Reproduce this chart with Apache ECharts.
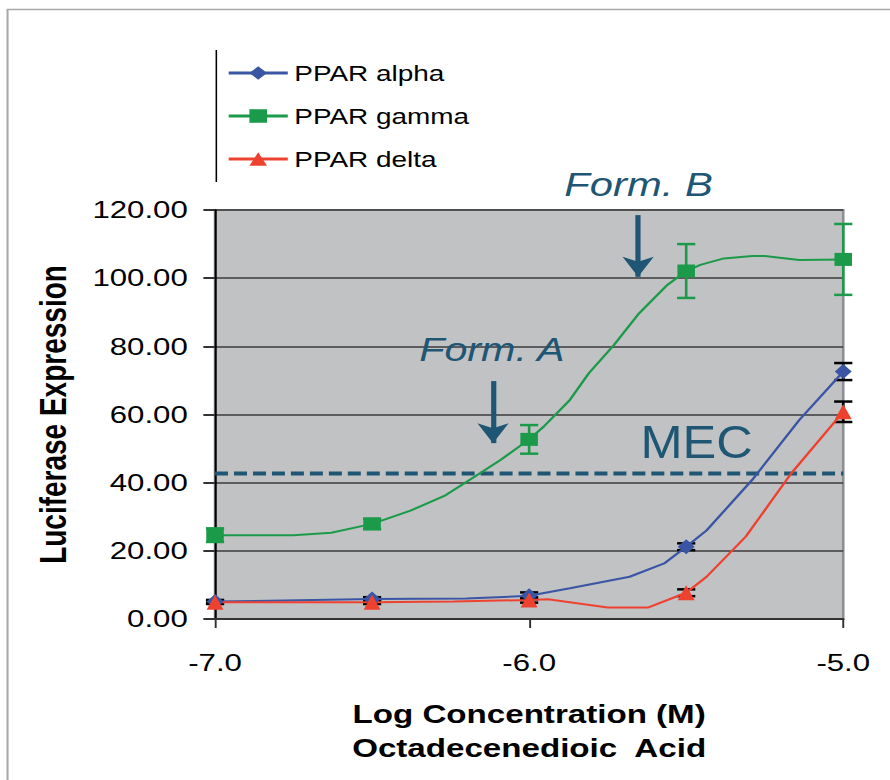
<!DOCTYPE html>
<html>
<head>
<meta charset="utf-8">
<script src="https://cdn.jsdelivr.net/npm/echarts@6/dist/echarts.min.js"></script>
<style>
  html, body { margin: 0; padding: 0; background: #fff; overflow: hidden; }
  /* the original figure is stretched sideways, so draw narrower and scale x */
  #chart { width: 685px; height: 780px; transform: scaleX(1.2993); transform-origin: 0 0; }
</style>
</head>
<body>
<div id="chart"></div>
<script>
// measured points (log M) and responses
var conc = [-7, -6.5, -6, -5.5, -5];
var alpha = [5.1, 5.9, 6.8, 21.2, 72.6];
var gamma = [24.6, 27.9, 52.7, 102.1, 105.5];
var delta = [4.9, 4.9, 5.6, 7.7, 60.8];
var alphaErr = [0.5, 0.5, 1.0, 1.0, 2.5];
var gammaErr = [2.0, 1.5, 4.2, 7.9, 10.4];
var deltaErr = [0.5, 0.5, 0.8, 1.0, 3.0];

// extra points of the fitted curves (no markers)
var alphaCurve = [[-6.2, 6.0], [-5.87, 9.0], [-5.68, 12.4], [-5.57, 16.3], [-5.435, 26.0], [-5.29, 40.8], [-5.14, 58.4]];
var gammaCurve = [[-6.75, 24.6], [-6.63, 25.3], [-6.38, 31.7], [-6.27, 36.1], [-6.19, 40.8], [-6.09, 46.7],
  [-5.954, 56.4], [-5.87, 64.3], [-5.81, 72.1], [-5.73, 80.4], [-5.65, 89.7], [-5.56, 98.0],
  [-5.455, 103.9], [-5.38, 105.8], [-5.29, 106.5], [-5.25, 106.5], [-5.14, 105.3]];
var deltaCurve = [[-6.24, 5.1], [-5.94, 5.8], [-5.75, 3.4], [-5.62, 3.4], [-5.435, 12.4], [-5.31, 24.2], [-5.165, 42.8]];

var mec = 42.7;
var arrowA = [[-6.115, 69.8], [-6.115, 51.6]];
var arrowB = [[-5.653, 118.5], [-5.653, 100.4]];

var names = ["PPAR alpha", "PPAR gamma", "PPAR delta"];
var colors = ["#3b55a5", "#1b9b49", "#ee4231"];
var symbols = ["diamond", "rect", "triangle"];
var symSizes = [[13, 15], [13.5, 13], [13, 15]];
var FONT = "'Liberation Sans', Arial, sans-serif";
var teal = "#1e5674";

// merge measured points with curve points, sorted by x
function buildLine(vals, curve) {
  var pts = [];
  for (var i = 0; i < conc.length; i++) pts.push({ value: [conc[i], vals[i]] });
  for (var j = 0; j < curve.length; j++) pts.push({ value: curve[j], symbol: "none" });
  pts.sort(function (a, b) { return a.value[0] - b.value[0]; });
  return pts;
}

function errData(vals, errs) {
  var out = [];
  for (var i = 0; i < conc.length; i++) out.push([conc[i], vals[i] - errs[i], vals[i] + errs[i]]);
  return out;
}

function errSeries(vals, errs, color) {
  return {
    type: "custom",
    z: 3,
    silent: true,
    data: errData(vals, errs),
    renderItem: function (params, api) {
      var lo = api.coord([api.value(0), api.value(1)]);
      var hi = api.coord([api.value(0), api.value(2)]);
      var w = 7;
      var st = { stroke: color, lineWidth: 2.5 };
      return {
        type: "group",
        children: [
          { type: "line", shape: { x1: lo[0], y1: lo[1], x2: hi[0], y2: hi[1] }, style: { stroke: color, lineWidth: 2 } },
          { type: "line", shape: { x1: lo[0] - w, y1: lo[1], x2: lo[0] + w, y2: lo[1] }, style: st },
          { type: "line", shape: { x1: hi[0] - w, y1: hi[1], x2: hi[0] + w, y2: hi[1] }, style: st }
        ]
      };
    }
  };
}

var lineData = [buildLine(alpha, alphaCurve), buildLine(gamma, gammaCurve), buildLine(delta, deltaCurve)];
var series = [];
for (var k = 0; k < 3; k++) {
  series.push({
    name: names[k],
    type: "line",
    z: 4,
    showAllSymbol: true,
    symbol: symbols[k],
    symbolSize: symSizes[k],
    itemStyle: { color: colors[k] },
    lineStyle: { color: colors[k], width: 2 },
    data: lineData[k]
  });
}
series.push(errSeries(alpha, alphaErr, "#000"));
series.push(errSeries(gamma, gammaErr, colors[1]));
series.push(errSeries(delta, deltaErr, "#000"));

// MEC line with the two arrows
series.push({
  type: "line",
  z: 2,
  silent: true,
  symbol: "none",
  lineStyle: { color: teal, width: 4, type: [10, 4.6] },
  data: [[-7, mec], [-5, mec]],
  markLine: {
    silent: true,
    symbol: ["none", "arrow"],
    symbolSize: [18, 20],
    label: { show: false },
    lineStyle: { color: teal, width: 4, type: "solid" },
    data: [
      [{ coord: arrowA[0] }, { coord: arrowA[1] }],
      [{ coord: arrowB[0] }, { coord: arrowB[1] }]
    ]
  }
});

var chart = echarts.init(document.getElementById("chart"), null, { renderer: "svg" });
var option = {
  animation: false,
  backgroundColor: "#fff",
  textStyle: { fontFamily: FONT },
  legend: {
    data: names,
    orient: "vertical",
    left: 169.5,
    top: 57,
    itemWidth: 45.5,
    itemHeight: 17,
    itemGap: 21,
    lineStyle: { width: 3 },
    textStyle: { fontFamily: FONT, fontSize: 21.5, color: "#000", lineHeight: 22 }
  },
  grid: {
    left: 165.5, right: 36, top: 210, bottom: 161,
    show: true,
    backgroundColor: "#c1c2c4",
    borderColor: "#8e8f93",
    borderWidth: 2
  },
  xAxis: {
    type: "value",
    min: -7, max: -5, interval: 1,
    name: "Log Concentration (M)\nOctadecenedioic  Acid",
    nameLocation: "middle",
    nameGap: 78,
    nameTextStyle: { fontFamily: FONT, fontSize: 25.5, fontWeight: "bold", color: "#000", lineHeight: 34 },
    axisLine: { lineStyle: { color: "#333", width: 2 } },
    axisTick: { length: 9, lineStyle: { color: "#333", width: 1.5 } },
    axisLabel: { fontSize: 24, color: "#000", margin: 32, formatter: function (v) { return v.toFixed(1); } },
    splitLine: { show: false }
  },
  yAxis: {
    type: "value",
    min: 0, max: 120, interval: 20,
    name: "Luciferase Expression",
    nameLocation: "middle",
    nameGap: 110,
    nameTextStyle: { fontFamily: FONT, fontSize: 28, fontWeight: "bold", color: "#000" },
    axisLine: { show: true, lineStyle: { color: "#000", width: 1.6 } },
    axisTick: { show: true, length: 9, lineStyle: { color: "#333", width: 2 } },
    axisLabel: { fontSize: 24, color: "#000", margin: 21, formatter: function (v) { return v.toFixed(2); } },
    splitLine: { lineStyle: { color: "#3a3a3a", width: 1.5 } }
  },
  graphic: [
    { type: "rect", silent: true, z: -10, shape: { x: 5.8, y: 9.5, width: 1000, height: 1000 },
      style: { fill: "none", stroke: "#a8a8a8", lineWidth: 1.6 } },
    { type: "line", silent: true, shape: { x1: 166.5, y1: 50, x2: 166.5, y2: 182 },
      style: { stroke: "#000", lineWidth: 1.2 } },
    { type: "text", silent: true, x: 491.5, y: 184, z: 10, scaleX: 0.946,
      style: { text: "Form. B", font: "italic 34px " + FONT, fill: teal, align: "center", verticalAlign: "middle" } },
    { type: "text", silent: true, x: 378.5, y: 349, z: 10, scaleX: 0.935,
      style: { text: "Form. A", font: "italic 34px " + FONT, fill: teal, align: "center", verticalAlign: "middle" } },
    { type: "text", silent: true, x: 536.2, y: 442, z: 10, scaleX: 0.846,
      style: { text: "MEC", font: "46px " + FONT, fill: teal, align: "center", verticalAlign: "middle" } }
  ],
  series: series
};
chart.setOption(option);
</script>
</body>
</html>
